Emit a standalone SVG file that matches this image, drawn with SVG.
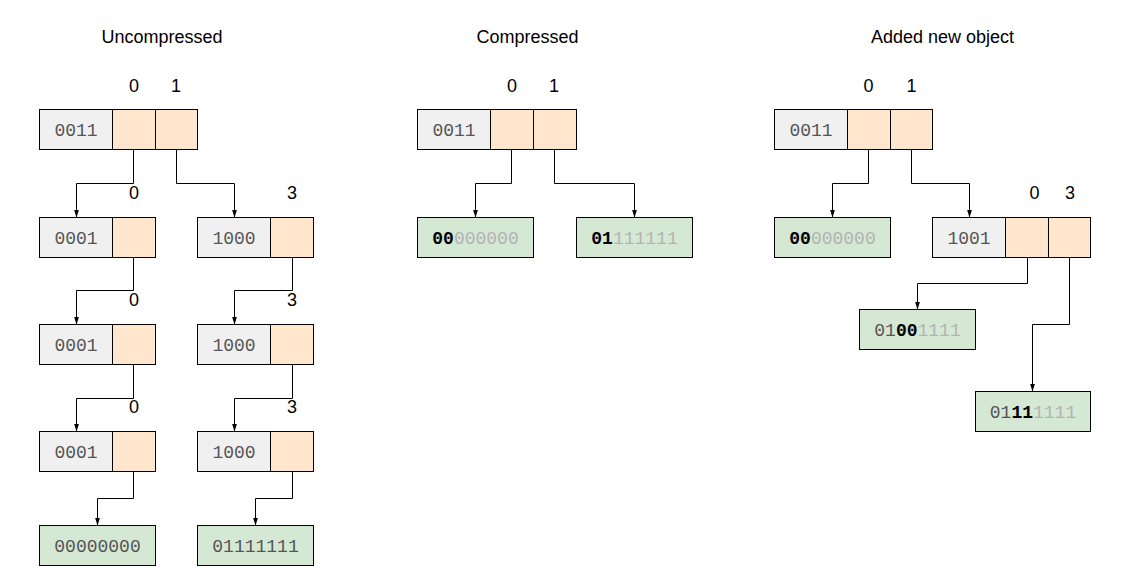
<svg xmlns="http://www.w3.org/2000/svg" width="1123" height="583" viewBox="0 0 1123 583">
<style>
.g{fill:#f0f0f0;stroke:#000;stroke-width:1}
.o{fill:#ffe6cc;stroke:#000;stroke-width:1}
.l{fill:#d5e8d4;stroke:#000;stroke-width:1}
.t{font-family:"Liberation Mono","Courier New",monospace;font-size:18px;fill:#555;text-anchor:middle}
.b{font-weight:bold;fill:#000}
.d{fill:#b3b3b3}
.h{font-family:"Liberation Sans",Arial,sans-serif;font-size:18px;fill:#000;text-anchor:middle}
.c{fill:none;stroke:#000;stroke-width:1}
</style>
<defs>
<marker id="a" viewBox="0 0 8 8" refX="8" refY="4" markerWidth="8" markerHeight="8" markerUnits="userSpaceOnUse" orient="auto">
<path d="M0,1.5 L8,4 L0,6.5 Z" fill="#000"/>
</marker>
</defs>
<rect width="1123" height="583" fill="#fff"/>
<g id="titles">
<text class="h" x="162" y="42.5">Uncompressed</text>
<text class="h" x="527.5" y="42.5">Compressed</text>
<text class="h" x="942.5" y="42.5">Added new object</text>
</g>
<g id="edge-labels">
<text class="h" x="134" y="91.5">0</text><text class="h" x="176" y="91.5">1</text>
<text class="h" x="134" y="199">0</text><text class="h" x="292" y="199">3</text>
<text class="h" x="134" y="306">0</text><text class="h" x="292" y="306">3</text>
<text class="h" x="134" y="413">0</text><text class="h" x="292" y="413">3</text>
<text class="h" x="512" y="91.5">0</text><text class="h" x="554" y="91.5">1</text>
<text class="h" x="868.5" y="91.5">0</text><text class="h" x="911.5" y="91.5">1</text>
<text class="h" x="1034.5" y="199">0</text><text class="h" x="1070" y="199">3</text>
</g>
<g id="connectors">
<path class="c" marker-end="url(#a)" d="M133.5,149.5V183.5H76.5V217.5"/>
<path class="c" marker-end="url(#a)" d="M176.5,149.5V183.5H234.5V217.5"/>
<path class="c" marker-end="url(#a)" d="M133.5,257.5V290.5H76.5V324.5"/>
<path class="c" marker-end="url(#a)" d="M292.5,257.5V290.5H234.5V324.5"/>
<path class="c" marker-end="url(#a)" d="M133.5,364.5V398.5H76.5V431.5"/>
<path class="c" marker-end="url(#a)" d="M292.5,364.5V398.5H234.5V431.5"/>
<path class="c" marker-end="url(#a)" d="M133.5,471.5V498.5H97.5V525.5"/>
<path class="c" marker-end="url(#a)" d="M292.5,471.5V498.5H255.5V525.5"/>
<path class="c" marker-end="url(#a)" d="M511.5,149.5V183.5H475.5V217.5"/>
<path class="c" marker-end="url(#a)" d="M554.5,149.5V183.5H634.5V217.5"/>
<path class="c" marker-end="url(#a)" d="M868.5,149.5V183.5H832.5V217.5"/>
<path class="c" marker-end="url(#a)" d="M911.5,149.5V183.5H969.5V217.5"/>
<path class="c" marker-end="url(#a)" d="M1027.5,257.5V283.5H917.5V309.5"/>
<path class="c" marker-end="url(#a)" d="M1069.5,257.5V324.5H1032.5V391.5"/>
</g>
<g id="u-root"><rect class="g" x="39.5" y="109.5" width="73" height="40"/><rect class="o" x="112.5" y="109.5" width="43" height="40"/><rect class="o" x="155.5" y="109.5" width="42" height="40"/><text class="t" x="76" y="136">0011</text></g>
<g id="u-l1"><rect class="g" x="39.5" y="217.5" width="73" height="40"/><rect class="o" x="112.5" y="217.5" width="43" height="40"/><text class="t" x="76" y="244">0001</text></g>
<g id="u-r1"><rect class="g" x="197.5" y="217.5" width="73" height="40"/><rect class="o" x="270.5" y="217.5" width="43" height="40"/><text class="t" x="234" y="244">1000</text></g>
<g id="u-l2"><rect class="g" x="39.5" y="324.5" width="73" height="40"/><rect class="o" x="112.5" y="324.5" width="43" height="40"/><text class="t" x="76" y="351">0001</text></g>
<g id="u-r2"><rect class="g" x="197.5" y="324.5" width="73" height="40"/><rect class="o" x="270.5" y="324.5" width="43" height="40"/><text class="t" x="234" y="351">1000</text></g>
<g id="u-l3"><rect class="g" x="39.5" y="431.5" width="73" height="40"/><rect class="o" x="112.5" y="431.5" width="43" height="40"/><text class="t" x="76" y="458">0001</text></g>
<g id="u-r3"><rect class="g" x="197.5" y="431.5" width="73" height="40"/><rect class="o" x="270.5" y="431.5" width="43" height="40"/><text class="t" x="234" y="458">1000</text></g>
<g id="u-leaf0"><rect class="l" x="39.5" y="525.5" width="116" height="40"/><text class="t" x="97.5" y="552">00000000</text></g>
<g id="u-leaf1"><rect class="l" x="197.5" y="525.5" width="116" height="40"/><text class="t" x="255.5" y="552">01111111</text></g>
<g id="c-root"><rect class="g" x="417.5" y="109.5" width="73" height="40"/><rect class="o" x="490.5" y="109.5" width="43" height="40"/><rect class="o" x="533.5" y="109.5" width="43" height="40"/><text class="t" x="454" y="136">0011</text></g>
<g id="c-leaf0"><rect class="l" x="417.5" y="217.5" width="116" height="40"/><text class="t" x="475.5" y="244"><tspan class="b">00</tspan><tspan class="d">000000</tspan></text></g>
<g id="c-leaf1"><rect class="l" x="576.5" y="217.5" width="116" height="40"/><text class="t" x="634.5" y="244"><tspan class="b">01</tspan><tspan class="d">111111</tspan></text></g>
<g id="a-root"><rect class="g" x="774.5" y="109.5" width="73" height="40"/><rect class="o" x="847.5" y="109.5" width="43" height="40"/><rect class="o" x="890.5" y="109.5" width="42" height="40"/><text class="t" x="811" y="136">0011</text></g>
<g id="a-leaf0"><rect class="l" x="774.5" y="217.5" width="116" height="40"/><text class="t" x="832.5" y="244"><tspan class="b">00</tspan><tspan class="d">000000</tspan></text></g>
<g id="a-1001"><rect class="g" x="932.5" y="217.5" width="73" height="40"/><rect class="o" x="1005.5" y="217.5" width="43" height="40"/><rect class="o" x="1048.5" y="217.5" width="42" height="40"/><text class="t" x="969" y="244">1001</text></g>
<g id="a-leaf2"><rect class="l" x="859.5" y="309.5" width="116" height="40"/><text class="t" x="917.5" y="336">01<tspan class="b">00</tspan><tspan class="d">1111</tspan></text></g>
<g id="a-leaf3"><rect class="l" x="975.5" y="391.5" width="115" height="40"/><text class="t" x="1033" y="418">01<tspan class="b">11</tspan><tspan class="d">1111</tspan></text></g>
</svg>
